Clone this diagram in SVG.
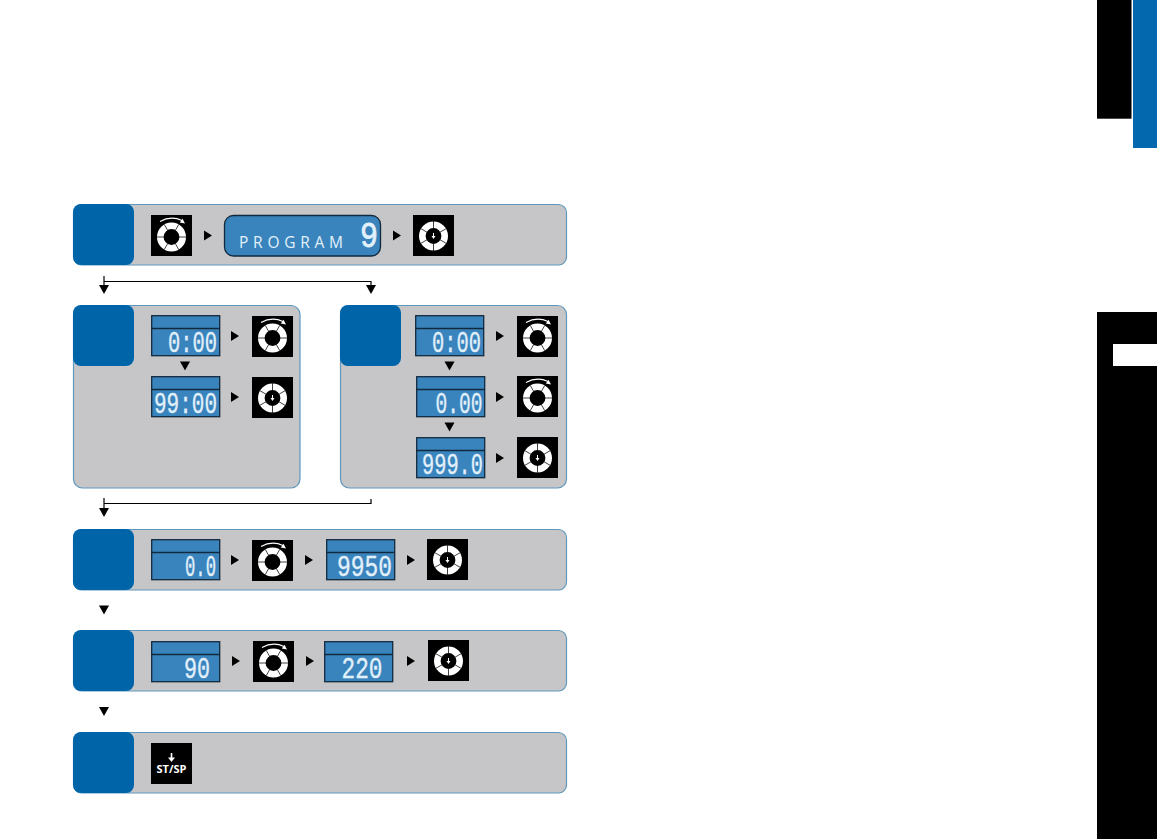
<svg xmlns="http://www.w3.org/2000/svg" xmlns:xlink="http://www.w3.org/1999/xlink" width="1157" height="839" viewBox="0 0 1157 839">
<style>
.panel{fill:#c6c6c8;stroke:#5f98bd;stroke-width:1.2}
.tile{fill:#0064a8}
.lcd{fill:#3a84bd;stroke:#12283c;stroke-width:1.3}
.div{stroke:#12283c;stroke-width:1.3}
.num{font-family:"Liberation Mono","DejaVu Sans Mono",monospace;font-size:30px;fill:#e2f0fa;stroke:#e2f0fa;stroke-width:.35;text-anchor:end}
.prog{font-family:"Open Sans","Liberation Sans",sans-serif;font-size:15.500px;fill:#e2f0fa}
.line{fill:none;stroke:#000;stroke-width:1.2}
.seg{stroke:#111;stroke-width:.8;fill:none}
</style>
<defs>
<polygon id="ar" points="0,-5 8,0 0,5" fill="#000"/>
<polygon id="ad" points="-5,-4.500 5,-4.500 0,4.500" fill="#000"/>
<g id="knob">
<rect width="41" height="41" fill="#000"/>
<circle cx="20.500" cy="22" r="11.200" fill="none" stroke="#fff" stroke-width="6.600"/>
<path class="seg" d="M5.500 22H13M28 22H35.500M13.300 9.500L17 16M27.700 9.500L24 16M13.300 34.500L17 28M27.700 34.500L24 28"/>
<path d="M9 6.500Q20 .5 31 5.500" fill="none" stroke="#fff" stroke-width="1.200"/>
<polygon points="34,8.500 28.800,7.500 31.500,3.800" fill="#fff"/>
</g>
<g id="ok">
<rect width="41" height="41" fill="#000"/>
<circle cx="20.500" cy="21" r="11.200" fill="none" stroke="#fff" stroke-width="6.600"/>
<path class="seg" d="M20.500 5V13M20.500 29V37M7 13.200L14 17.200M34 13.200L27 17.200M7 28.800L14 24.800M34 28.800L27 24.800"/>
<path d="M20.500 18V22" stroke="#fff" stroke-width="1"/>
<polygon points="18.500,21 22.500,21 20.500,24" fill="#fff"/>
</g>
<g id="lcd">
<rect x=".7" y=".7" width="68" height="40" class="lcd"/>
<path class="div" d="M0 13.500H69"/>
</g>
</defs>
<rect width="1157" height="839" fill="#fff"/>
<g id="side-tabs">
<rect x="1097" y="0" width="34.500" height="118.700" fill="#000"/>
<rect x="1133" y="0" width="24" height="148" fill="#0468ae"/>
<rect x="1097" y="312" width="60" height="527" fill="#000"/>
<rect x="1113" y="344" width="44" height="22" fill="#fff"/>
</g>
<g id="connectors">
<path class="line" d="M104 276V285M104 281.500H371V285"/>
<path class="line" d="M104 498V508M104 503.500H371V499"/>
<use href="#ad" x="104" y="289.500"/>
<use href="#ad" x="371" y="289.500"/>
<use href="#ad" x="104" y="512.500"/>
<use href="#ad" x="104" y="610"/>
<use href="#ad" x="104" y="711.500"/>
</g>
<g id="step-1">
<rect class="panel" x="73.500" y="204.500" width="493" height="60.500" rx="8"/>
<rect class="tile" x="73" y="204" width="61" height="61" rx="8"/>
<use href="#knob" x="151" y="215"/>
<use href="#ar" x="204" y="235.500"/>
<rect class="lcd" x="224.500" y="215.500" width="156" height="40.500" rx="9"/>
<text class="prog" x="239" y="247.700" textLength="104">PROGRAM</text>
<text class="num" x="378" y="247" style="font-size:36px;stroke-width:.8" textLength="18" lengthAdjust="spacingAndGlyphs">9</text>
<use href="#ar" x="393" y="235.500"/>
<use href="#ok" x="413" y="215"/>
</g>
<g id="step-2a">
<rect class="panel" x="73.500" y="305.500" width="226.500" height="182.500" rx="9"/>
<rect class="tile" x="73" y="305" width="61" height="61" rx="8"/>
<use href="#lcd" x="151" y="315"/>
<text class="num" x="217" y="352" textLength="49" lengthAdjust="spacingAndGlyphs">0:00</text>
<use href="#ar" x="231" y="336"/>
<use href="#knob" x="252" y="316"/>
<use href="#ad" x="185" y="366"/>
<use href="#lcd" x="151" y="376"/>
<text class="num" x="217" y="413" textLength="63" lengthAdjust="spacingAndGlyphs">99:00</text>
<use href="#ar" x="231" y="397"/>
<use href="#ok" x="252" y="377"/>
</g>
<g id="step-2b">
<rect class="panel" x="340.500" y="305.500" width="226" height="182.500" rx="9"/>
<rect class="tile" x="340" y="305" width="61" height="61" rx="8"/>
<use href="#lcd" x="415" y="315"/>
<text class="num" x="481" y="352" textLength="49" lengthAdjust="spacingAndGlyphs">0:00</text>
<use href="#ar" x="496" y="336"/>
<use href="#knob" x="517" y="316"/>
<use href="#ad" x="449.500" y="366"/>
<use href="#lcd" x="416" y="376"/>
<text class="num" x="482.500" y="413" textLength="47" lengthAdjust="spacingAndGlyphs">0.00</text>
<use href="#ar" x="496" y="397"/>
<use href="#knob" x="517" y="376"/>
<use href="#ad" x="449.500" y="427"/>
<use href="#lcd" x="416" y="437"/>
<text class="num" x="483" y="474" textLength="61" lengthAdjust="spacingAndGlyphs">999.0</text>
<use href="#ar" x="496" y="458"/>
<use href="#ok" x="517" y="437"/>
</g>
<g id="step-3">
<rect class="panel" x="73.500" y="529.500" width="493" height="60.500" rx="8"/>
<rect class="tile" x="73" y="529" width="61" height="61" rx="8"/>
<use href="#lcd" x="151" y="539"/>
<text class="num" x="216" y="576" textLength="31" lengthAdjust="spacingAndGlyphs">0.0</text>
<use href="#ar" x="231" y="560"/>
<use href="#knob" x="252" y="540"/>
<use href="#ar" x="305" y="560"/>
<use href="#lcd" x="326" y="539"/>
<text class="num" x="392" y="576" textLength="55" lengthAdjust="spacingAndGlyphs">9950</text>
<use href="#ar" x="407" y="560"/>
<use href="#ok" x="427" y="539"/>
</g>
<g id="step-4">
<rect class="panel" x="73.500" y="630.500" width="493" height="60.500" rx="8"/>
<rect class="tile" x="73" y="630" width="61" height="61" rx="8"/>
<use href="#lcd" x="151" y="641"/>
<text class="num" x="210" y="678" textLength="26" lengthAdjust="spacingAndGlyphs">90</text>
<use href="#ar" x="232" y="661"/>
<use href="#knob" x="253" y="641"/>
<use href="#ar" x="306" y="661"/>
<use href="#lcd" x="324" y="641"/>
<text class="num" x="382.500" y="678" textLength="41" lengthAdjust="spacingAndGlyphs">220</text>
<use href="#ar" x="407" y="661"/>
<use href="#ok" x="428" y="640"/>
</g>
<g id="step-5">
<rect class="panel" x="73.500" y="732.500" width="493" height="60.500" rx="8"/>
<rect class="tile" x="73" y="732" width="61" height="61" rx="8"/>
<rect x="151" y="743" width="41" height="41" fill="#000"/>
<path d="M171.500 753V760" stroke="#fff" stroke-width="1.600"/>
<polygon points="168,757.500 175,757.500 171.500,762" fill="#fff"/>
<text x="171.500" y="772.500" text-anchor="middle" textLength="30" lengthAdjust="spacingAndGlyphs" font-family="'Open Sans','Liberation Sans',sans-serif" font-weight="700" font-size="11px" fill="#fff">ST/SP</text>
</g>
</svg>
